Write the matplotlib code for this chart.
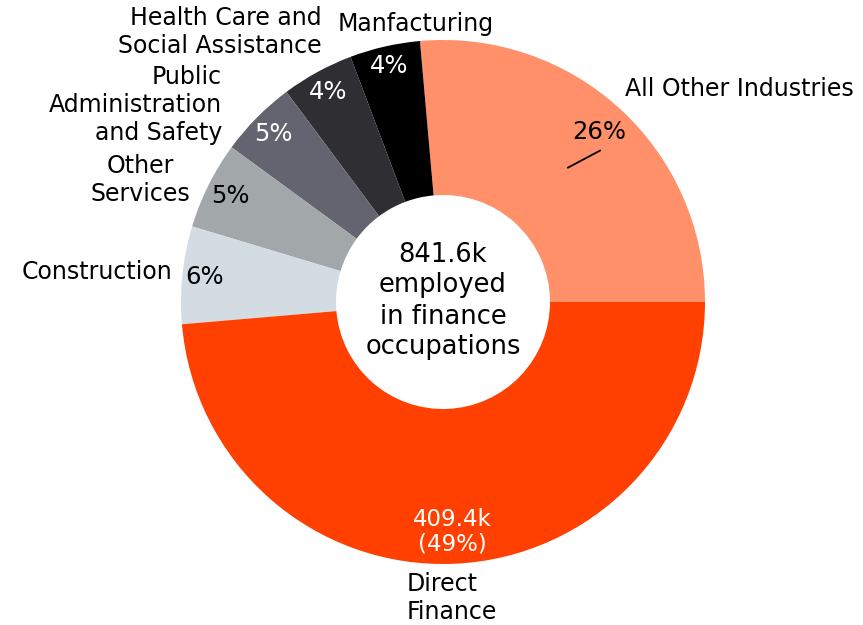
import numpy as np
import matplotlib
matplotlib.use("Agg")
import matplotlib.pyplot as plt

# Employment in finance occupations by industry (thousands)
industries = ["All Other Industries", "Manfacturing", "Health Care and\nSocial Assistance",
              "Public\nAdministration\nand Safety", "Other\nServices", "Construction",
              "Direct\nFinance"]
employed_k = [222.2, 36.5, 37.5, 40.0, 45.4, 50.6, 409.4]
total_k = 841.6
colors = ["#ff906a", "#000000", "#2f2e33", "#63646f", "#a2a8aa", "#d4dce3", "#ff4000"]
pct_colors = ["black", "white", "white", "white", "black", "black", "white"]

W, H = 863, 625
cx, cy = 443, H - 302
R_out, R_in = 262, 107

plt.rcParams["font.family"] = "DejaVu Sans"
fig = plt.figure(figsize=(W / 100, H / 100), dpi=100)
ax = fig.add_axes([0, 0, 1, 1])

wedges, _ = ax.pie(employed_k, colors=colors, startangle=0, counterclock=True,
                   center=(cx, cy), radius=R_out, frame=True,
                   wedgeprops=dict(width=R_out - R_in, linewidth=0))
ax.set_xlim(0, W)
ax.set_ylim(0, H)
ax.set_aspect("equal")
ax.axis("off")

# percentage labels inside the ring
pct_radius = [231, 242, 239, 239, 238, 240, 230]
for i, w in enumerate(wedges):
    mid = np.deg2rad((w.theta1 + w.theta2) / 2)
    x = cx + pct_radius[i] * np.cos(mid)
    y = cy + pct_radius[i] * np.sin(mid)
    share = employed_k[i] / total_k * 100
    if i == len(wedges) - 1:
        txt = f"{employed_k[i]:.1f}k\n({share:.0f}%)"
        ax.text(x, y, txt, ha="center", va="center", fontsize=16.5,
                color=pct_colors[i], linespacing=1.05)
    else:
        ax.text(x, y, f"{share:.0f}%", ha="center", va="center", fontsize=17.5,
                color=pct_colors[i])
    if i == 0:
        ax.plot([x - 31, x + 1], [y - 36, y - 19], color="black", lw=1.3)

# category labels around the ring
def px(x, y):
    return x, H - y

label_pos = [
    (px(625, 89), "left"),
    (px(416, 24), "center"),
    (px(322, 32), "right"),
    (px(222, 105), "right"),
    (px(140, 180), "center"),
    (px(172, 272), "right"),
    (px(407, 598), "left"),
]
for name, ((x, y), ha) in zip(industries, label_pos):
    ax.text(x, y, name, ha=ha, va="center", fontsize=17, color="black",
            linespacing=1.22, multialignment=ha)

ax.text(cx, cy + 1, "841.6k\nemployed\nin finance\noccupations", ha="center", va="center",
        fontsize=18.5, color="black", linespacing=1.25)

fig.savefig("out.png", dpi=100, facecolor="white")
